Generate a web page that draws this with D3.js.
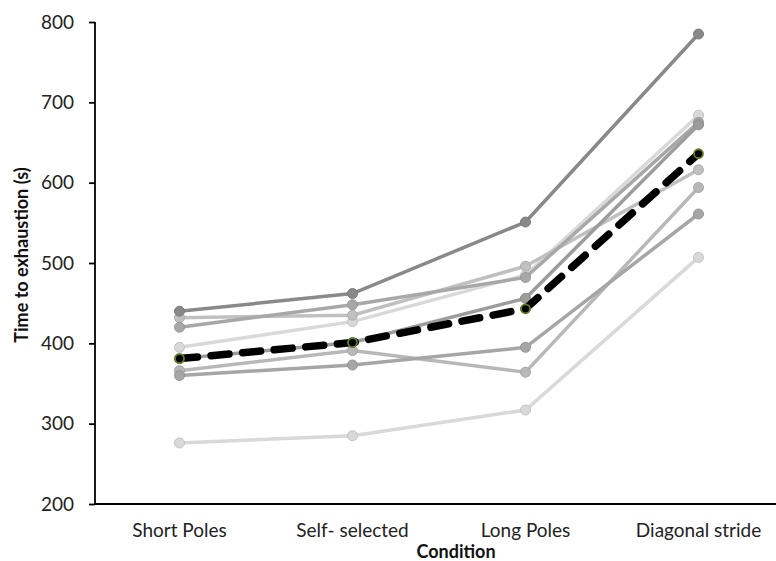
<!DOCTYPE html>
<html>
<head>
<meta charset="utf-8">
<script src="https://cdn.jsdelivr.net/npm/d3@7"></script>
<style>
  body { margin: 0; background: #fff; }
  text { font-family: Lato, "Open Sans", sans-serif; }
</style>
</head>
<body>
<script>
// conditions along the x axis
var conditions = ['Short Poles', 'Self- selected', 'Long Poles', 'Diagonal stride'];
var yTicks = [200, 300, 400, 500, 600, 700, 800];

// one line per subject (time to exhaustion, s)
var s1 = [440, 462, 551, 785];
var s2 = [420, 448, 482, 675];
var s3 = [432, 435, 496, 616];
var s4 = [395, 427, 485, 684];
var s5 = [381, 401, 456, 672];
var s6 = [366, 391, 364, 594];
var s7 = [360, 373, 395, 561];
var s8 = [276, 285, 317, 507];
var meanValues = [381, 401, 443, 636];

var subjects = [s8, s4, s3, s2, s6, s7, s5, s1];
var colors = ['#d9d9d9', '#d9d9d9', '#c0c0c0', '#a8a8a8', '#b8b8b8', '#a6a6a6', '#9c9c9c', '#898989'];

var width = 776, height = 561;

var svg = d3.select('body').append('svg')
  .attr('width', width)
  .attr('height', height);

var x = d3.scaleBand().domain(conditions).range([93, 785]);
var y = d3.scaleLinear().domain([200, 800]).range([504, 22]);

var cx = function(i) { return x(conditions[i]) + x.bandwidth() / 2; };

// axes
var yAxis = svg.append('g')
  .attr('transform', 'translate(95,0)')
  .call(d3.axisLeft(y).tickValues(yTicks).tickSize(6).tickPadding(15).tickFormat(d3.format('d')));
yAxis.select('.domain').attr('stroke', '#000').attr('stroke-width', 1.8).attr('d', 'M0,' + y(800) + 'V' + y(200));
yAxis.selectAll('.tick line').attr('stroke', '#000').attr('stroke-width', 1.8);
yAxis.selectAll('.tick text').attr('font-size', 19).attr('fill', '#222').style('font-family', 'Lato, sans-serif');

var xAxis = svg.append('g')
  .attr('transform', 'translate(0,' + y(200) + ')')
  .call(d3.axisBottom(x).tickSize(0).tickPadding(20));
xAxis.select('.domain').attr('stroke', '#000').attr('stroke-width', 1.8).attr('d', 'M95,0H785');
xAxis.selectAll('.tick text').attr('font-size', 19).attr('fill', '#222').style('font-family', 'Lato, sans-serif');

// titles
svg.append('text')
  .attr('transform', 'translate(28,255) rotate(-90)')
  .attr('text-anchor', 'middle')
  .attr('font-size', 18)
  .attr('font-weight', 'bold')
  .attr('fill', '#111')
  .text('Time to exhaustion (s)');

svg.append('text')
  .attr('x', 456)
  .attr('y', 558)
  .attr('text-anchor', 'middle')
  .attr('font-size', 18)
  .attr('font-weight', 'bold')
  .attr('fill', '#111')
  .text('Condition');

var line = d3.line()
  .x(function(d, i) { return cx(i); })
  .y(function(d) { return y(d); });

subjects.forEach(function(vals, k) {
  var g = svg.append('g');
  g.append('path')
    .attr('d', line(vals))
    .attr('fill', 'none')
    .attr('stroke', colors[k])
    .attr('stroke-width', 3.5);
  g.selectAll('circle').data(vals).enter().append('circle')
    .attr('cx', function(d, i) { return cx(i); })
    .attr('cy', function(d) { return y(d); })
    .attr('r', 5)
    .attr('fill', colors[k])
    .attr('stroke', d3.color(colors[k]).darker(0.3))
    .attr('stroke-width', 1);
});

// mean line
svg.append('path')
  .attr('d', line(meanValues))
  .attr('fill', 'none')
  .attr('stroke', '#000')
  .attr('stroke-width', 7.5)
  .attr('stroke-linecap', 'round')
  .attr('stroke-dasharray', '18,13.7');

svg.selectAll('.mean').data(meanValues).enter().append('circle')
  .attr('class', 'mean')
  .attr('cx', function(d, i) { return cx(i); })
  .attr('cy', function(d) { return y(d); })
  .attr('r', 4.5)
  .attr('fill', '#000')
  .attr('stroke', '#5f7f22')
  .attr('stroke-width', 1.8);
</script>
</body>
</html>
